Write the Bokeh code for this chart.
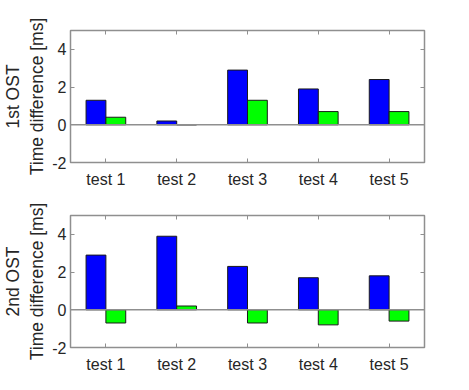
from bokeh.plotting import figure
from bokeh.models import ColumnDataSource, Range1d, FixedTicker, LinearAxis, Span
from bokeh.transform import dodge
from bokeh.layouts import column
from bokeh.embed import file_html
from bokeh.resources import INLINE

tests = ["test 1", "test 2", "test 3", "test 4", "test 5"]
first_blue = [1.3, 0.2, 2.9, 1.9, 2.4]
first_green = [0.4, 0.0, 1.3, 0.7, 0.7]
second_blue = [2.9, 3.9, 2.3, 1.7, 1.8]
second_green = [-0.7, 0.2, -0.7, -0.8, -0.6]
y_ticks = [-2, 0, 2, 4]
labels = ["1st OST\nTime difference [ms]", "2nd OST\nTime difference [ms]"]

FONT = "Liberation Sans"
TXT = "#262626"
LINE = "#8f8f8f"

xpos = list(range(1, len(tests) + 1))


def make(blue, green, label, top, bottom):
    src = ColumnDataSource(dict(x=xpos, t=tests, blue=blue, green=green))
    p = figure(x_range=Range1d(0.5, len(tests) + 0.5), y_range=Range1d(-2, 5),
               frame_width=354, frame_height=132, output_backend="svg",
               toolbar_location=None, min_border_left=62, min_border_right=30,
               min_border_top=top, min_border_bottom=bottom)
    p.grid.visible = False
    p.background_fill_color = "white"
    p.outline_line_color = LINE
    p.outline_line_width = 1.5
    p.add_layout(Span(location=0, dimension="width", line_color=LINE, line_width=1.5))
    p.vbar(x=dodge("x", -0.14), top="blue", bottom=0, width=0.28,
           source=src, fill_color="#0000ff", line_color="#1a1a1a", line_width=1)
    p.vbar(x=dodge("x", 0.14), top="green", bottom=0, width=0.28,
           source=src, fill_color="#00ff00", line_color="#1a1a1a", line_width=1)

    for ax in p.xaxis + p.yaxis:
        ax.major_label_text_font = FONT
        ax.major_label_text_font_size = "16px"
        ax.major_label_text_color = TXT
        ax.major_label_text_font_style = "normal"
        ax.axis_line_color = None
        ax.major_tick_line_color = LINE
        ax.major_tick_out = 0
        ax.major_tick_in = 4
        ax.minor_tick_line_color = None
    p.xaxis.ticker = FixedTicker(ticks=xpos)
    p.xaxis.major_label_overrides = dict(zip(xpos, tests))
    p.yaxis.ticker = FixedTicker(ticks=y_ticks)
    p.yaxis.major_label_overrides = {v: str(v) for v in y_ticks}
    p.yaxis.major_label_standoff = 4
    p.xaxis.major_label_standoff = 8
    p.yaxis.axis_label = label
    p.yaxis.axis_label_text_font = FONT
    p.yaxis.axis_label_text_font_size = "17.5px"
    p.yaxis.axis_label_text_font_style = "normal"
    p.yaxis.axis_label_text_color = TXT
    p.yaxis.axis_label_standoff = 2

    ra = LinearAxis(ticker=FixedTicker(ticks=y_ticks),
                    major_label_overrides={v: "" for v in y_ticks},
                    axis_line_color=None, major_tick_line_color=LINE, major_tick_out=0,
                    major_tick_in=4, minor_tick_line_color=None, major_label_standoff=0)
    p.add_layout(ra, "right")
    ta = LinearAxis(ticker=FixedTicker(ticks=xpos),
                    major_label_overrides={v: "" for v in xpos}, axis_line_color=None,
                    major_tick_line_color=LINE, major_tick_out=0, major_tick_in=4,
                    minor_tick_line_color=None, major_label_standoff=0)
    p.add_layout(ta, "above")
    return p


p1 = make(first_blue, first_green, labels[0], 30, 28)
p2 = make(second_blue, second_green, labels[1], 25, 38)
p = column(p1, p2, spacing=0)

open("out.html", "w").write(file_html(p, INLINE))
